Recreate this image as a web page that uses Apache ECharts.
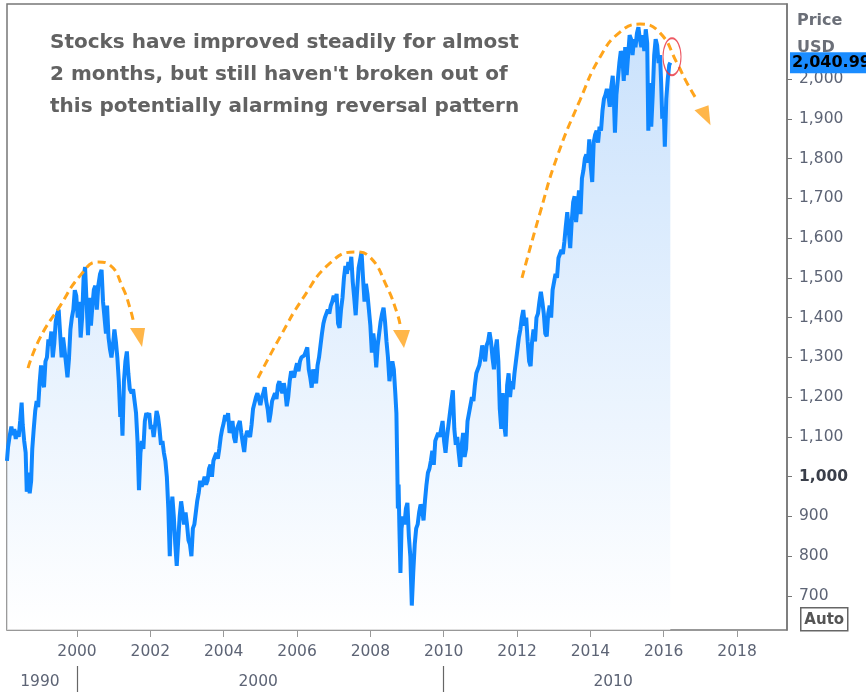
<!DOCTYPE html>
<html><head><meta charset="utf-8">
<script src="https://cdn.jsdelivr.net/npm/echarts@6/dist/echarts.min.js"></script>
<style>html,body{margin:0;padding:0;background:#fff}#c{width:866px;height:694px}</style>
</head><body><div id="c"></div>
<script>
// S&P 500 style price history: [decimal year, price]
const sp500 = [
[1998.09,1040],[1998.12,1075],[1998.16,1100],[1998.21,1126],[1998.25,1105],[1998.29,1120],[1998.33,1095],[1998.37,1115],[1998.41,1100],[1998.45,1140],[1998.49,1186],[1998.52,1130],[1998.56,1090],[1998.60,1060],[1998.63,962],[1998.67,1010],[1998.71,958],[1998.75,990],[1998.78,1070],[1998.82,1120],[1998.86,1165],[1998.90,1190],[1998.94,1175],[1998.98,1235],
[1999.02,1280],[1999.06,1240],[1999.10,1225],[1999.14,1290],[1999.18,1300],[1999.22,1345],[1999.26,1330],[1999.30,1365],[1999.34,1300],[1999.38,1335],[1999.42,1390],[1999.46,1410],[1999.50,1420],[1999.54,1360],[1999.58,1300],[1999.62,1350],[1999.66,1320],[1999.70,1285],[1999.74,1250],[1999.78,1295],[1999.82,1370],[1999.86,1400],[1999.90,1420],[1999.94,1469],[1999.98,1455],
[2000.02,1400],[2000.06,1440],[2000.10,1350],[2000.14,1400],[2000.18,1500],[2000.22,1527],[2000.26,1440],[2000.30,1356],[2000.34,1450],[2000.38,1380],[2000.42,1430],[2000.46,1470],[2000.50,1480],[2000.54,1420],[2000.58,1480],[2000.63,1510],[2000.67,1520],[2000.71,1440],[2000.75,1400],[2000.79,1360],[2000.82,1430],[2000.86,1350],[2000.90,1320],[2000.94,1300],[2000.98,1330],
[2001.02,1370],[2001.06,1340],[2001.10,1300],[2001.14,1240],[2001.18,1150],[2001.21,1180],[2001.24,1103],[2001.28,1240],[2001.32,1290],[2001.36,1315],[2001.40,1260],[2001.44,1220],[2001.49,1210],[2001.53,1220],[2001.57,1190],[2001.61,1160],[2001.65,1090],[2001.69,966],[2001.73,1060],[2001.77,1090],[2001.81,1070],[2001.85,1140],[2001.89,1160],[2001.93,1150],[2001.97,1160],
[2002.01,1120],[2002.05,1130],[2002.09,1100],[2002.13,1130],[2002.17,1165],[2002.21,1150],[2002.25,1120],[2002.29,1080],[2002.33,1090],[2002.37,1060],[2002.41,1040],[2002.45,1000],[2002.49,920],[2002.53,800],[2002.56,900],[2002.60,950],[2002.64,900],[2002.68,830],[2002.72,776],[2002.76,840],[2002.80,900],[2002.84,938],[2002.88,910],[2002.92,880],[2002.96,910],
[2003.00,880],[2003.04,840],[2003.08,830],[2003.12,800],[2003.16,870],[2003.20,880],[2003.24,910],[2003.28,940],[2003.32,960],[2003.36,990],[2003.40,975],[2003.44,985],[2003.48,1000],[2003.52,980],[2003.56,990],[2003.60,1020],[2003.64,1030],[2003.68,1000],[2003.72,1040],[2003.76,1050],[2003.80,1060],[2003.84,1045],[2003.88,1070],[2003.92,1100],[2003.96,1120],
[2004.00,1135],[2004.04,1155],[2004.08,1140],[2004.12,1160],[2004.16,1110],[2004.20,1125],[2004.24,1140],[2004.28,1100],[2004.32,1085],[2004.36,1120],[2004.40,1130],[2004.44,1140],[2004.48,1110],[2004.52,1085],[2004.56,1062],[2004.60,1100],[2004.64,1115],[2004.68,1120],[2004.72,1100],[2004.76,1130],[2004.80,1170],[2004.84,1185],[2004.88,1200],[2004.92,1210],[2004.96,1212],
[2005.00,1180],[2005.04,1200],[2005.08,1210],[2005.12,1225],[2005.16,1190],[2005.20,1170],[2005.24,1137],[2005.28,1160],[2005.32,1190],[2005.36,1200],[2005.40,1210],[2005.44,1195],[2005.48,1230],[2005.52,1240],[2005.56,1220],[2005.60,1210],[2005.64,1235],[2005.68,1215],[2005.72,1177],[2005.76,1200],[2005.80,1240],[2005.84,1265],[2005.88,1260],[2005.92,1250],[2005.96,1270],
[2006.00,1285],[2006.04,1265],[2006.08,1290],[2006.12,1300],[2006.16,1295],[2006.20,1305],[2006.24,1310],[2006.28,1325],[2006.32,1270],[2006.36,1250],[2006.40,1224],[2006.44,1270],[2006.48,1250],[2006.52,1235],[2006.56,1280],[2006.60,1300],[2006.64,1330],[2006.68,1360],[2006.72,1385],[2006.76,1400],[2006.80,1395],[2006.84,1420],[2006.88,1410],[2006.92,1430],[2006.96,1440],
[2007.00,1455],[2007.04,1440],[2007.08,1460],[2007.12,1385],[2007.16,1374],[2007.20,1420],[2007.24,1450],[2007.28,1500],[2007.32,1530],[2007.36,1510],[2007.40,1540],[2007.44,1520],[2007.48,1553],[2007.52,1490],[2007.56,1450],[2007.60,1406],[2007.64,1470],[2007.68,1525],[2007.72,1545],[2007.76,1565],[2007.80,1500],[2007.84,1440],[2007.88,1485],[2007.92,1460],[2007.96,1420],
[2008.00,1380],[2008.04,1312],[2008.08,1360],[2008.12,1330],[2008.16,1275],[2008.20,1330],[2008.24,1360],[2008.28,1390],[2008.32,1410],[2008.36,1425],[2008.40,1390],[2008.44,1340],[2008.48,1300],[2008.52,1240],[2008.56,1270],[2008.60,1290],[2008.64,1270],[2008.68,1210],[2008.71,1160],[2008.73,1050],[2008.75,920],[2008.77,980],[2008.79,880],[2008.82,758],[2008.85,870],[2008.89,900],[2008.93,880],[2008.97,920],
[2009.01,934],[2009.05,850],[2009.09,800],[2009.13,676],[2009.17,760],[2009.21,830],[2009.25,870],[2009.29,880],[2009.33,910],[2009.37,930],[2009.41,920],[2009.45,890],[2009.49,940],[2009.53,980],[2009.57,1010],[2009.61,1020],[2009.65,1040],[2009.69,1065],[2009.73,1030],[2009.77,1090],[2009.81,1100],[2009.85,1110],[2009.89,1100],[2009.93,1120],[2009.97,1140],
[2010.01,1090],[2010.05,1060],[2010.09,1100],[2010.13,1130],[2010.17,1160],[2010.21,1190],[2010.25,1217],[2010.29,1120],[2010.33,1080],[2010.37,1100],[2010.41,1060],[2010.45,1025],[2010.49,1080],[2010.53,1110],[2010.57,1050],[2010.61,1070],[2010.65,1140],[2010.69,1160],[2010.73,1180],[2010.77,1200],[2010.81,1190],[2010.85,1230],[2010.89,1260],[2010.93,1270],[2010.97,1280],
[2011.01,1300],[2011.05,1330],[2011.09,1310],[2011.13,1290],[2011.17,1330],[2011.21,1340],[2011.25,1363],[2011.29,1340],[2011.33,1300],[2011.37,1270],[2011.41,1320],[2011.45,1345],[2011.49,1290],[2011.53,1170],[2011.57,1120],[2011.61,1210],[2011.65,1130],[2011.69,1101],[2011.73,1230],[2011.77,1260],[2011.81,1200],[2011.85,1240],[2011.89,1220],[2011.93,1260],[2011.97,1290],
[2012.01,1320],[2012.05,1350],[2012.09,1370],[2012.13,1400],[2012.17,1419],[2012.21,1380],[2012.25,1400],[2012.29,1340],[2012.33,1290],[2012.37,1278],[2012.41,1340],[2012.45,1370],[2012.49,1340],[2012.53,1400],[2012.57,1410],[2012.61,1440],[2012.65,1465],[2012.69,1440],[2012.73,1410],[2012.77,1360],[2012.81,1353],[2012.85,1410],[2012.89,1430],[2012.93,1400],[2012.97,1470],
[2013.01,1490],[2013.05,1510],[2013.09,1500],[2013.13,1550],[2013.17,1560],[2013.21,1570],[2013.25,1560],[2013.29,1590],[2013.33,1630],[2013.37,1665],[2013.41,1620],[2013.45,1575],[2013.49,1640],[2013.53,1690],[2013.57,1705],[2013.61,1640],[2013.65,1680],[2013.69,1720],[2013.73,1660],[2013.77,1750],[2013.81,1770],[2013.85,1800],[2013.89,1810],[2013.93,1790],[2013.97,1848],
[2014.01,1780],[2014.05,1741],[2014.09,1840],[2014.13,1860],[2014.17,1870],[2014.21,1840],[2014.25,1880],[2014.29,1870],[2014.33,1920],[2014.37,1950],[2014.41,1960],[2014.45,1975],[2014.49,1960],[2014.53,1930],[2014.57,1980],[2014.61,2008],[2014.64,1950],[2014.67,1865],[2014.71,1960],[2014.75,2000],[2014.79,2040],[2014.83,2070],[2014.87,2060],[2014.91,1995],[2014.95,2080],[2014.99,2010],
[2015.03,2060],[2015.07,2110],[2015.11,2100],[2015.15,2060],[2015.19,2100],[2015.23,2080],[2015.27,2115],[2015.31,2130],[2015.35,2100],[2015.39,2080],[2015.43,2110],[2015.47,2070],[2015.51,2125],[2015.55,2090],[2015.58,1870],[2015.62,1990],[2015.66,1880],[2015.70,1960],[2015.74,2060],[2015.78,2100],[2015.82,2085],[2015.86,2040],[2015.90,2060],[2015.93,1990],[2015.96,1900],
[2016.00,1930],[2016.03,1830],[2016.07,1950],[2016.11,2000],[2016.15,2035],[2016.18,2040.99]
];
const lastPrice = 2040.99;
const xTickYears = [2000, 2002, 2004, 2006, 2008, 2010, 2012, 2014, 2016, 2018];
const yTickValues = [700, 800, 900, 1000, 1100, 1200, 1300, 1400, 1500, 1600, 1700, 1800, 1900, 2000];
const decadeSeparators = [2000, 2010];
const decadeLabelAt = [1998.99, 2004.94, 2014.62];
// annotation arcs (data coordinates)
const arc1 = [[1998.664,1273],[1998.991,1349],[1999.536,1429],[2000.082,1505],[2000.573,1540],[2000.900,1532],[2001.254,1474],[2001.445,1424],[2001.554,1384]];
const arc2 = [[2004.936,1248],[2005.536,1351],[2006.163,1449],[2006.899,1537],[2007.581,1565],[2007.990,1552],[2008.454,1477],[2008.727,1412],[2008.808,1384]];
const arc3 = [[2012.135,1500],[2012.626,1663],[2013.090,1804],[2013.717,1947],[2014.262,2055],[2014.808,2118],[2015.354,2138],[2015.899,2116],[2016.363,2040],[2016.636,1990],[2016.908,1947]];
// arrow heads: [year, price, triangle outline (shape only), box size]
const arrowHeads = [
  [2001.650, 1350, 'path://M0,0 L15,0 L12,19 Z', [15, 19]],
  [2008.849, 1346, 'path://M0,0 L17,0 L11,18 Z', [17, 18]],
  [2017.058, 1909, 'path://M0,5 L14,0 L16,20 Z', [16, 20]]
];
const circleAt = [2016.226, 2056];
const note = "Stocks have improved steadily for almost\n2 months, but still haven't broken out of\nthis potentially alarming reversal pattern";

const X_MIN = 1998.091, X_MAX = 2019.362, Y_MIN = 614.5, Y_MAX = 2188.6;
const labelColor = '#5d6475';
const axisFont = 'DejaVu Sans';
const orange = '#ffa41b';

const chart = echarts.init(document.getElementById('c'));
const arcSeries = [arc1, arc2, arc3].map(a => ({
  type: 'line', data: a, smooth: 0.5, showSymbol: false, silent: true, z: 5,
  lineStyle: { color: orange, width: 3, type: [8, 5] }
}));
chart.setOption({
  animation: false,
  backgroundColor: '#fff',
  grid: { left: 7, right: 79, top: 4, bottom: 64, show: true, borderColor: '#777', borderWidth: 1.5 },
  xAxis: [{
    type: 'value', min: X_MIN, max: X_MAX,
    axisLine: { show: false },
    splitLine: { show: false },
    axisTick: { show: true, customValues: xTickYears, length: 7, lineStyle: { color: '#999', width: 1 } },
    axisLabel: { customValues: xTickYears, formatter: v => String(Math.round(v)), margin: 14, color: labelColor, fontSize: 15.5, fontFamily: axisFont }
  }, {
    type: 'value', min: X_MIN, max: X_MAX, position: 'bottom', offset: 36,
    axisLine: { show: false },
    splitLine: { show: false },
    axisTick: { show: true, customValues: decadeSeparators, length: 26, lineStyle: { color: '#666', width: 1.2 } },
    axisLabel: { customValues: decadeLabelAt, formatter: v => String(Math.floor(v / 10) * 10), margin: 8, color: labelColor, fontSize: 15.5, fontFamily: axisFont }
  }],
  yAxis: {
    type: 'value', position: 'right', min: Y_MIN, max: Y_MAX,
    splitLine: { show: false },
    axisLine: { show: true, lineStyle: { color: '#777', width: 1.5 } },
    axisTick: { show: true, customValues: yTickValues, length: 5, lineStyle: { color: '#777' } },
    axisLabel: {
      customValues: yTickValues, margin: 12, color: labelColor, fontSize: 15.5, fontFamily: axisFont,
      formatter: v => v === 1000 ? '{b|1,000}' : v.toLocaleString('en-US'),
      rich: { b: { fontWeight: 'bold', color: '#3a3f4a', fontSize: 15.5, fontFamily: axisFont } }
    }
  },
  series: [{
    type: 'line', data: sp500, showSymbol: false, z: 3, clip: false,
    lineStyle: { color: '#0f87ff', width: 4 },
    areaStyle: { color: new echarts.graphic.LinearGradient(0, 0, 0, 1, [
      { offset: 0, color: '#b3d5fb' }, { offset: 1, color: '#ffffff' }]) },
    markLine: {
      silent: true, symbol: 'none', animation: false,
      lineStyle: { color: 'rgba(0,0,0,0)', width: 1 },
      data: [{ yAxis: lastPrice }],
      label: { show: true, position: 'end', distance: 3, formatter: p => Number(p.value).toLocaleString('en-US', { minimumFractionDigits: 2 }),
        backgroundColor: '#1a8cff', color: '#000', fontWeight: 'bold', fontSize: 16, fontFamily: axisFont, padding: [3, 3, 2, 2] }
    }
  }, ...arcSeries, {
    type: 'scatter', silent: true, z: 6,
    data: arrowHeads.map(a => ({ value: [a[0], a[1]], symbol: a[2], symbolSize: a[3] })),
    itemStyle: { color: orange }
  }, {
    type: 'scatter', silent: true, z: 6,
    data: [circleAt], symbol: 'circle', symbolSize: [18, 37],
    itemStyle: { color: 'rgba(0,0,0,0)', borderColor: '#e8303c', borderWidth: 1.5 }
  }],
  graphic: [
    { type: 'text', left: 50, top: 27, z: 10, style: { text: note, font: 'bold 20px "DejaVu Sans"', fill: '#626262', lineHeight: 32 } },
    { type: 'text', left: 797, top: 7, z: 0, style: { text: 'Price\nUSD', font: 'bold 16px "DejaVu Sans"', fill: '#6b6f78', lineHeight: 27 } },
    { type: 'group', left: 800, top: 607, children: [
      { type: 'rect', shape: { x: 0, y: 0, width: 47, height: 23 }, style: { fill: '#fff', stroke: '#666', lineWidth: 1.5 } },
      { type: 'text', x: 23.5, y: 12, style: { text: 'Auto', font: 'bold 15px "DejaVu Sans"', fill: '#555', align: 'center', verticalAlign: 'middle' } }
    ]}
  ]
});
</script></body></html>
